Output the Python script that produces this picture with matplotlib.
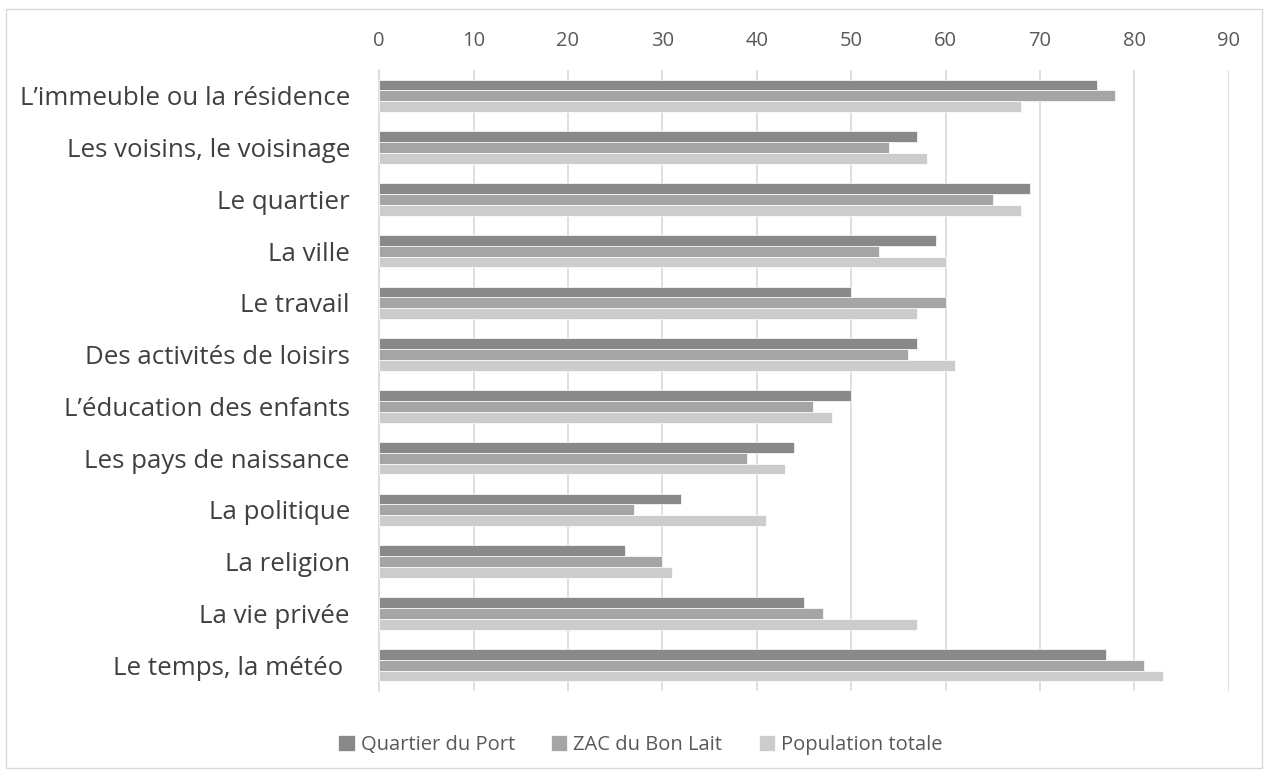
import numpy as np
import matplotlib
matplotlib.use("Agg")
import matplotlib.pyplot as plt
from matplotlib.patches import Rectangle

categories = ["L\u2019immeuble ou la résidence", "Les voisins, le voisinage", "Le quartier",
              "La ville", "Le travail", "Des activités de loisirs", "L\u2019éducation des enfants",
              "Les pays de naissance", "La politique", "La religion", "La vie privée",
              "Le temps, la météo "]
quartier_port = [76, 57, 69, 59, 50, 57, 50, 44, 32, 26, 45, 77]
zac_bon_lait = [78, 54, 65, 53, 60, 56, 46, 39, 27, 30, 47, 81]
population_totale = [68, 58, 68, 60, 57, 61, 48, 43, 41, 31, 57, 83]
series_names = ["Quartier du Port", "ZAC du Bon Lait", "Population totale"]
colors = ["#898989", "#a5a5a5", "#cccccc"]

plt.rcParams['font.family'] = ['Open Sans', 'DejaVu Sans']

fig = plt.figure(figsize=(12.68, 7.76), dpi=100)
ax = fig.add_axes([0.299, 0.1095, 0.67, 0.8003])

y = np.arange(len(categories))
h = 0.21
for i, (vals, name, c) in enumerate(zip([quartier_port, zac_bon_lait, population_totale], series_names, colors)):
    ax.barh(y + (i - 1) * h, vals, height=h, color=c, edgecolor='white', linewidth=0.5,
            label=name, zorder=3)

ax.set_xlim(0, 90)
ax.set_ylim(len(categories) - 0.5, -0.5)
ax.set_xticks(range(0, 91, 10))
ax.xaxis.tick_top()
ax.set_yticks(y)
ax.set_yticklabels(categories, fontsize=18.6, color='#404040')
ax.tick_params(axis='x', length=0, labelsize=14.5, labelcolor='#595959', pad=14)
ax.tick_params(axis='y', length=0, pad=21)
ax.grid(axis='x', color='#d9d9d9', linewidth=1.2, zorder=0)
for s in ['top', 'right', 'bottom']:
    ax.spines[s].set_visible(False)
ax.spines['left'].set_color('#d9d9d9')
ax.spines['left'].set_linewidth(1.2)

fig.legend(loc='center', bbox_to_anchor=(0.505, 0.04), ncol=3, frameon=False,
           fontsize=14.5, handlelength=0.8, handleheight=0.8, handletextpad=0.3,
           columnspacing=1.8, labelcolor='#595959')

fig.patches.append(Rectangle((0.005, 0.01), 0.99, 0.978, transform=fig.transFigure,
                             fill=False, edgecolor='#d9d9d9', linewidth=1))

fig.savefig("out.png", dpi=100)
